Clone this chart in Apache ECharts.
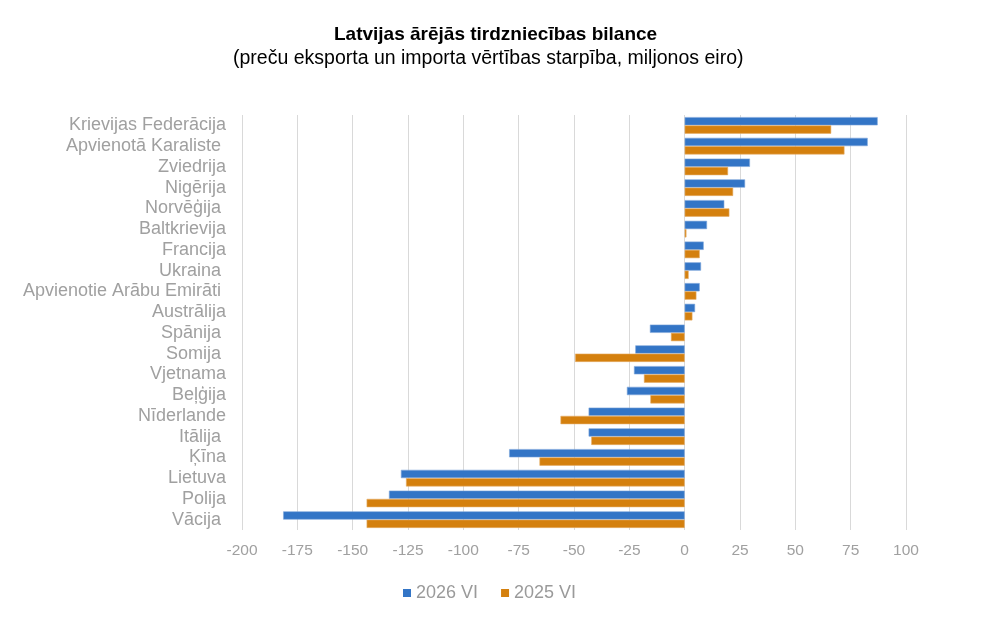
<!DOCTYPE html>
<html>
<head>
<meta charset="utf-8">
<title>Latvijas ārējās tirdzniecības bilance</title>
<script src="https://cdn.jsdelivr.net/npm/echarts@6/dist/echarts.min.js"></script>
<style>
  html, body { margin: 0; padding: 0; background: #fff; }
  #chart { width: 1000px; height: 619px; }
</style>
</head>
<body>
<div id="chart"></div>
<script>
// valstis (no augšas uz leju)
var countries = ['Krievijas Federācija', 'Apvienotā Karaliste ', 'Zviedrija', 'Nigērija', 'Norvēģija ',
    'Baltkrievija', 'Francija', 'Ukraina ', 'Apvienotie Arābu Emirāti ', 'Austrālija', 'Spānija ',
    'Somija ', 'Vjetnama', 'Beļģija', 'Nīderlande', 'Itālija ', 'Ķīna', 'Lietuva', 'Polija', 'Vācija '];
var seriesNames = ['2026 VI', '2025 VI'];
// bilance, milj. eiro
var values2026 = [87.2, 82.7, 29.5, 27.3, 17.9, 10.1, 8.6, 7.4, 6.8, 4.7, -15.7,
    -22.3, -22.9, -26.1, -43.4, -43.4, -79.3, -128.2, -133.6, -181.4];
var values2025 = [66.2, 72.2, 19.6, 21.9, 20.2, 0.8, 6.8, 1.8, 5.3, 3.5, -6.2,
    -49.5, -18.4, -15.5, -56.1, -42.2, -65.6, -125.9, -143.7, -143.7];
var xMin = -200, xMax = 100, xStep = 25;

var font = "'Liberation Sans', Arial, sans-serif";
var myChart = echarts.init(document.getElementById('chart'));
var option = {
    backgroundColor: '#fff',
    color: ['#3375c6', '#d4800e'],
    title: [
        {
            text: 'Latvijas ārējās tirdzniecības bilance',
            left: 329,
            top: 20,
            textStyle: { fontFamily: font, fontSize: 19, fontWeight: 'bold', color: '#000' }
        },
        {
            text: '(preču eksporta un importa vērtības starpība, miljonos eiro)',
            left: 228,
            top: 44,
            textStyle: { fontFamily: font, fontSize: 19.5, fontWeight: 'normal', color: '#000' }
        }
    ],
    legend: {
        left: 398,
        top: 579,
        icon: 'rect',
        itemWidth: 8,
        itemHeight: 8,
        itemGap: 23,
        itemStyle: { borderWidth: 0 },
        textStyle: { fontFamily: font, fontSize: 18, color: '#9a9a9a' },
        data: seriesNames
    },
    grid: {
        left: 242,
        right: 94,
        top: 115,
        bottom: 89,
        containLabel: false
    },
    xAxis: {
        type: 'value',
        min: xMin,
        max: xMax,
        interval: xStep,
        axisLine: { show: false },
        axisTick: { show: false },
        splitLine: { show: true, lineStyle: { color: '#d9d9d9', width: 1 } },
        axisLabel: { fontFamily: font, fontSize: 15.5, color: '#a0a0a0', margin: 13 }
    },
    yAxis: {
        type: 'category',
        inverse: true,
        data: countries,
        axisLine: { show: false },
        axisTick: { show: false },
        axisLabel: { interval: 0, fontFamily: font, fontSize: 18, color: '#a0a0a0', margin: 16 }
    },
    series: [
        {
            name: seriesNames[0],
            type: 'bar',
            data: values2026,
            barGap: '0%',
            barCategoryGap: '20%',
            itemStyle: { borderColor: '#7fa8dc', borderWidth: 0.6 }
        },
        {
            name: seriesNames[1],
            type: 'bar',
            data: values2025,
            barGap: '0%',
            barCategoryGap: '20%',
            itemStyle: { borderColor: '#e6ad66', borderWidth: 0.6 }
        }
    ]
};
myChart.setOption(option);
</script>
</body>
</html>
